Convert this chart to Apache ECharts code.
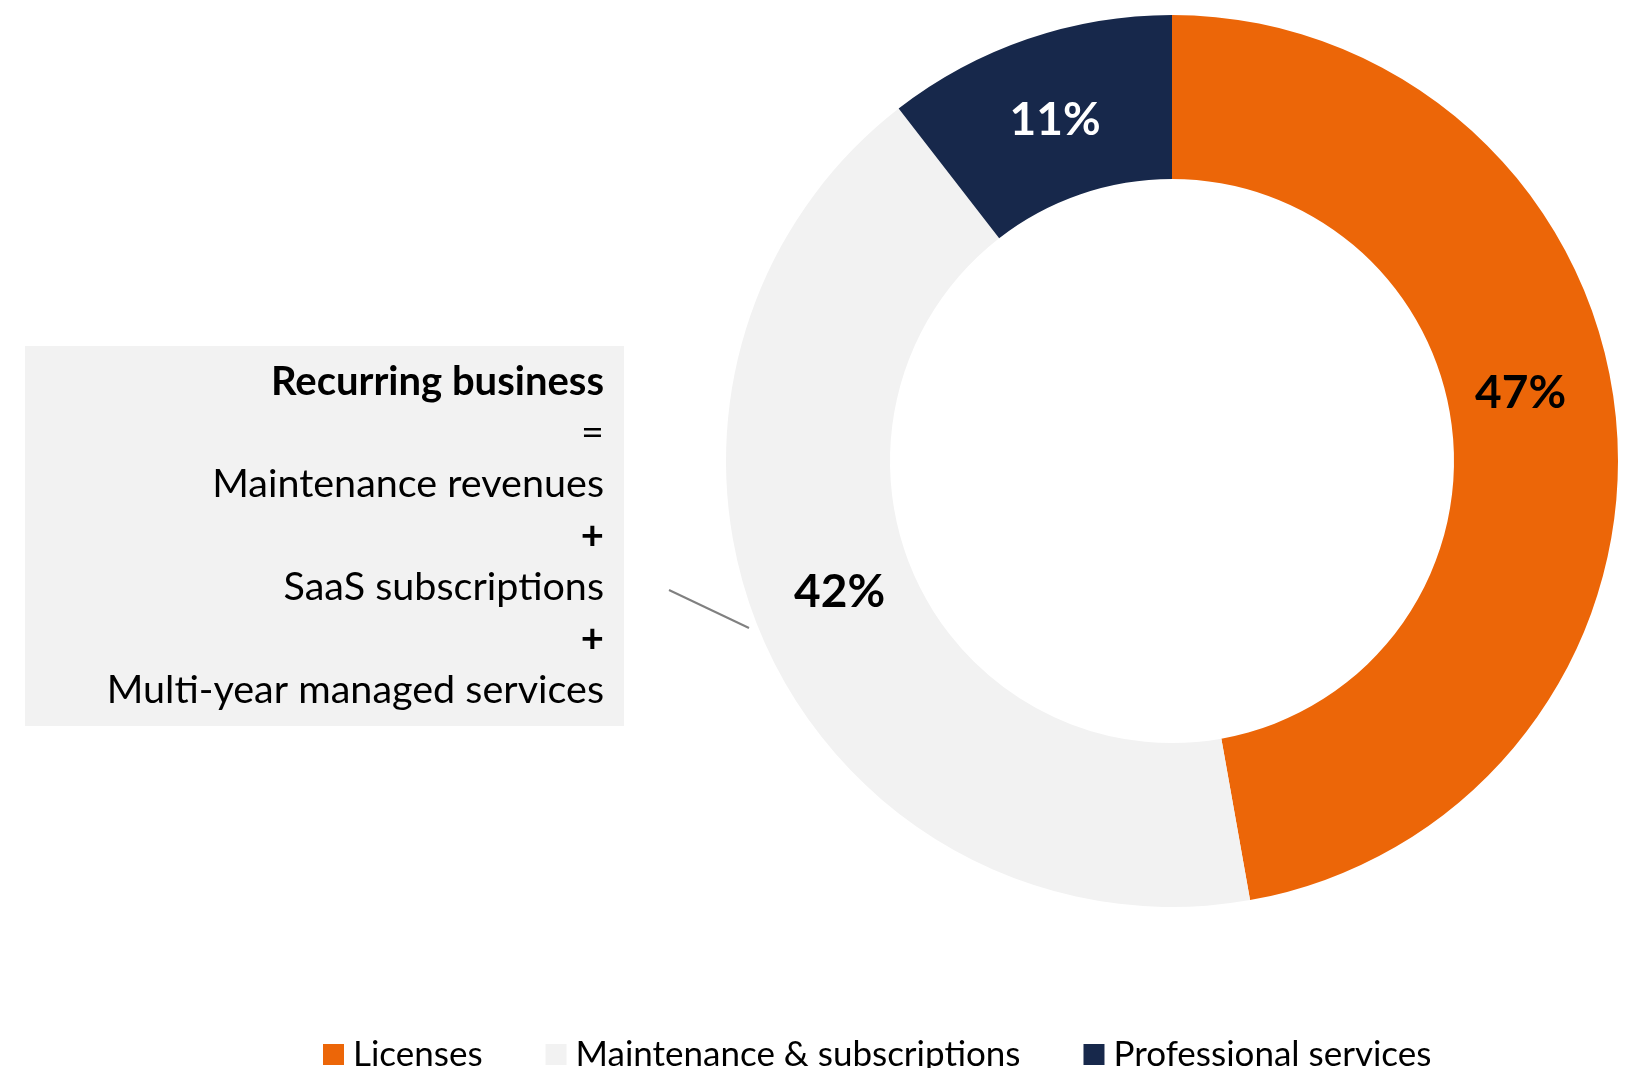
<!DOCTYPE html>
<html>
<head>
<meta charset="utf-8">
<script src="https://cdn.jsdelivr.net/npm/echarts@6/dist/echarts.min.js"></script>
<style>
  html, body { margin: 0; padding: 0; background: #fff; }
  #chart { width: 1629px; height: 1068px; }
</style>
</head>
<body>
<div id="chart"></div>
<script>
const categories = ['Licenses', 'Maintenance & subscriptions', 'Professional services'];
const shares = [47.2, 42.3, 10.5];
const colors = ['#EC6608', '#F2F2F2', '#17284B'];
const labelColors = ['#000', '#000', '#fff'];
const labelOffsets = [[-17, -36], [3, -18], [2, 6]];

// callout box text lines
const boxLines = ['Recurring business', '=', 'Maintenance revenues', '+', 'SaaS subscriptions', '+', 'Multi-year managed services'];
const boldLines = ['Recurring business', '+'];

const font = 'Lato, "Open Sans", sans-serif';

let chart = echarts.init(document.getElementById('chart'));

let boxText = boxLines.map(function (l) {
    return boldLines.indexOf(l) >= 0 ? '{b|' + l + '}' : '{n|' + l + '}';
}).join('\n');

let option = {
    animation: false,
    legend: {
        left: 318,
        top: 1032,
        itemWidth: 21,
        itemHeight: 21,
        itemGap: 63,
        icon: 'rect',
        data: categories,
        textStyle: {
            fontFamily: font,
            fontSize: 35,
            color: '#000',
            padding: [0, 0, 0, 4]
        }
    },
    graphic: [
        {
            type: 'rect',
            shape: {x: 25, y: 346, width: 599, height: 380},
            style: {fill: '#F2F2F2'},
            silent: true
        },
        {
            type: 'text',
            x: 604,
            y: 356,
            style: {
                text: boxText,
                align: 'right',
                verticalAlign: 'top',
                fontFamily: font,
                fontSize: 39,
                lineHeight: 51.5,
                fill: '#000',
                rich: {
                    b: {fontWeight: 'bold', fontSize: 40, lineHeight: 51.5, fontFamily: font},
                    n: {fontSize: 39.5, lineHeight: 51.5, fontFamily: font}
                }
            },
            silent: true
        },
        {
            type: 'line',
            shape: {x1: 669, y1: 590, x2: 749, y2: 628},
            style: {stroke: '#808080', lineWidth: 2},
            silent: true
        }
    ],
    series: [
        {
            type: 'pie',
            center: [1172, 461],
            radius: [282, 446],
            startAngle: 90,
            clockwise: true,
            avoidLabelOverlap: false,
            labelLine: {show: false},
            itemStyle: {borderWidth: 0},
            emphasis: {disabled: true},
            data: categories.map(function (c, i) {
                return {
                    name: c,
                    value: shares[i],
                    itemStyle: {color: colors[i]},
                    label: {
                        show: true,
                        position: 'inside',
                        formatter: function (p) { return Math.round(p.value) + '%'; },
                        fontFamily: font,
                        fontWeight: 'bold',
                        fontSize: 46,
                        color: labelColors[i],
                        offset: labelOffsets[i]
                    }
                };
            })
        }
    ]
};

chart.setOption(option);
</script>
</body>
</html>
